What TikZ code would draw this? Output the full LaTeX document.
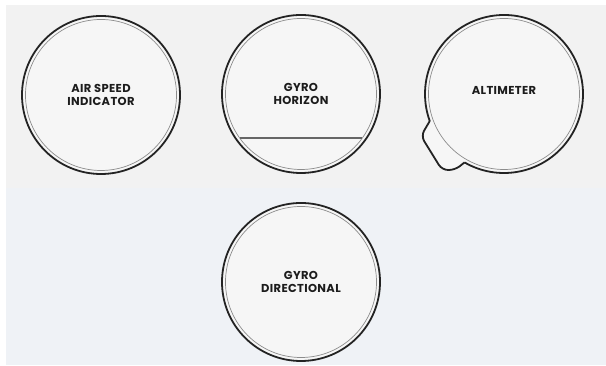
\documentclass[tikz,border=0pt]{standalone}
\usepackage{fontspec}
\setmainfont{Poppins}
\newfontfamily\dialfont[LetterSpace=3]{Poppins}
\usetikzlibrary{positioning,calc}
\definecolor{paper}{HTML}{F2F2F2}
\definecolor{paperlow}{HTML}{EFF2F6}
\definecolor{rim}{HTML}{232323}
\definecolor{bezelgrey}{HTML}{8C8C8C}
\definecolor{face}{HTML}{F6F6F6}
\definecolor{ink}{HTML}{1C1C1C}

\begin{document}
\begin{tikzpicture}[x=1pt, y=1pt,
  rimline/.style={draw=rim, line width=1.8pt},
  dial/.style={circle, rimline, fill=face, minimum size=158pt, inner sep=0pt},
  bezel/.style={draw=bezelgrey, line width=0.7pt},
  caption/.style={align=center, font=\dialfont\bfseries\fontsize{11.5}{13.5}\selectfont, text=ink}]
  % background
  \fill[white] (0,0) rectangle (606,366);
  \fill[paper] (6,178) rectangle (606,361);
  \fill[paperlow] (6,1) rectangle (606,178);
  % dials
  \node[dial] (asi) at (101,271) {};
  \node[dial] (hor) at (301,272) {};
  \node[dial, draw=none] (alt) at (504,272) {};
  \node[dial] (dir) at (301,84) {};
  % altimeter case with its tab
  \draw[rimline, fill=face, rounded corners=6pt] ([shift={(200:79)}]alt.center)
    -- ([shift={(-83,-42)}]alt.center) -- ([shift={(-62,-76)}]alt.center)
    -- ([shift={(-49,-76)}]alt.center) -- ([shift={(240:79)}]alt.center);
  \draw[rimline] ([shift={(240:79)}]alt.center) arc[start angle=240, end angle=560, radius=79];
  \foreach \d in {asi, hor, alt, dir} {
    \draw[bezel] (\d.center) circle[radius=75.5];
  }
  % horizon bar
  \coordinate (hl) at ($(hor.center)+(-61.4,-44)$);
  \coordinate (hr) at ($(hor.center)+(61.4,-44)$);
  \draw[draw=black!60, line width=1.2pt] (hl) -- (hr);
  % captions
  \node[caption] (asitext) at (asi.center) {AIR SPEED\\INDICATOR};
  \node[caption] (hortext) at (hor.center) {GYRO\\HORIZON};
  \node[caption] (alttext) at ([yshift=4pt]alt.center) {ALTIMETER};
  \node[caption] (dirtext) at (dir.center) {GYRO\\DIRECTIONAL};
\end{tikzpicture}
\end{document}
